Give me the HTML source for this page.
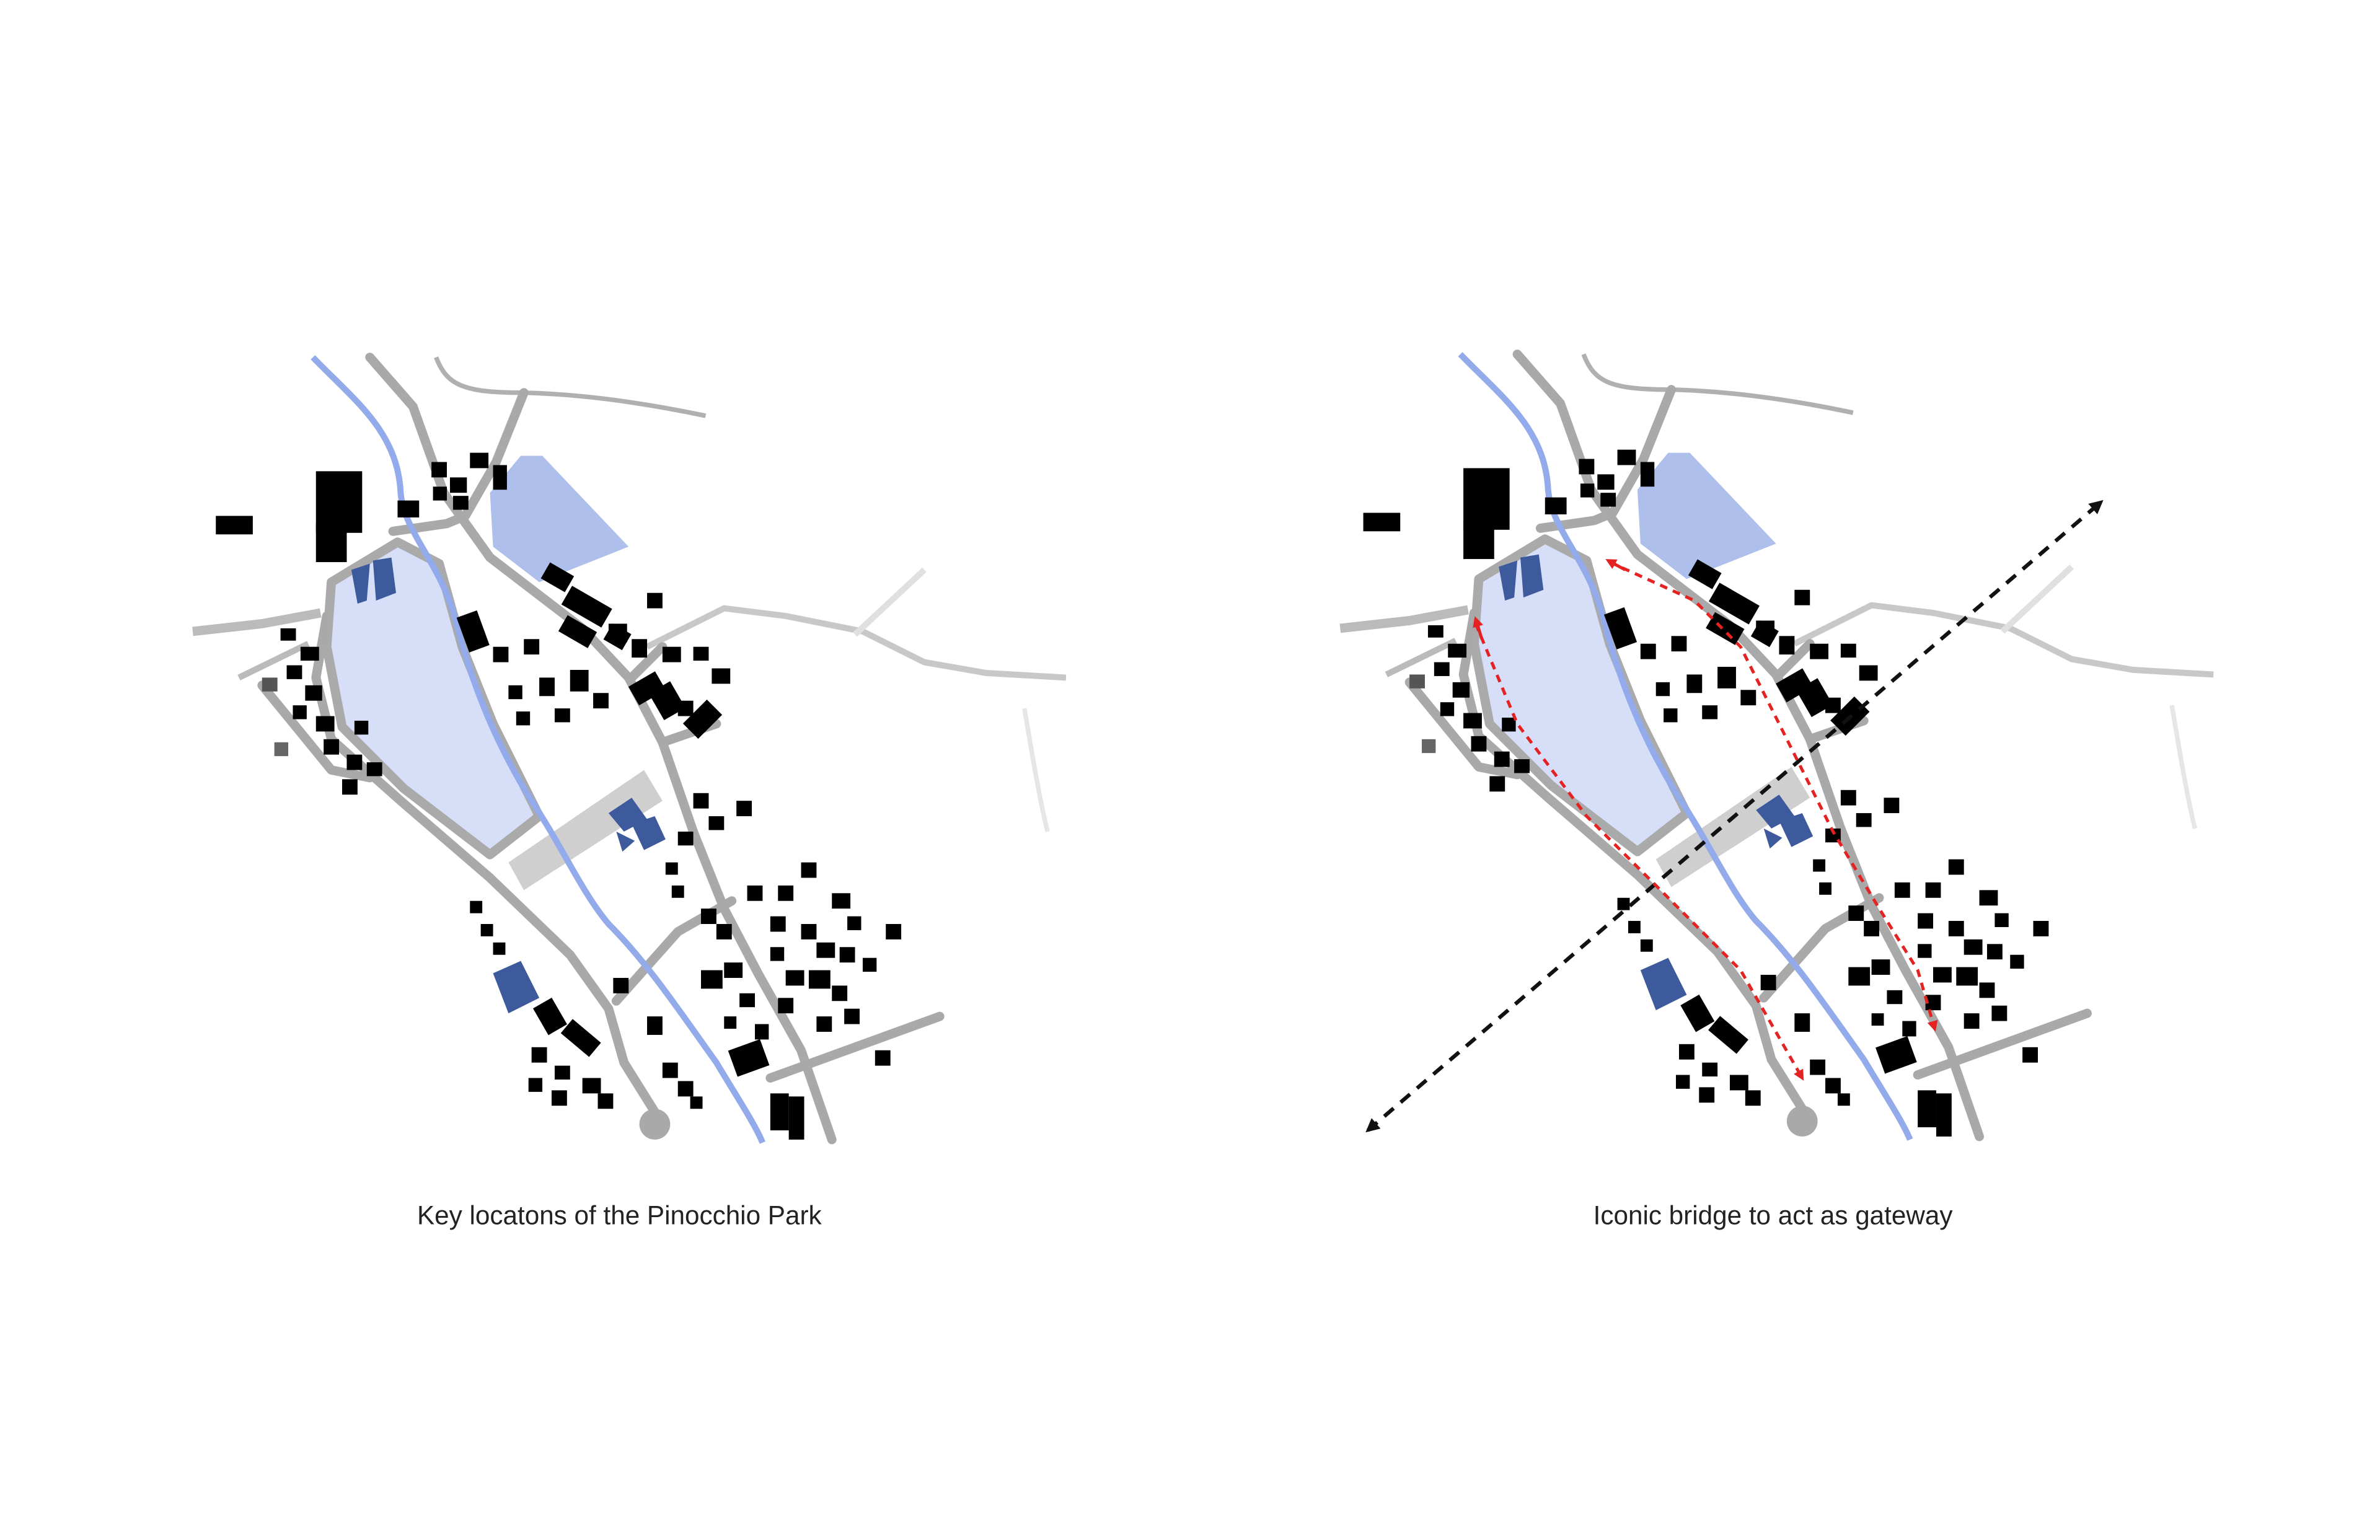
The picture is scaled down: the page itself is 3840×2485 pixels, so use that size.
<!DOCTYPE html>
<html><head><meta charset="utf-8"><style>
html,body{margin:0;padding:0;background:#fff;}
svg{display:block;}
</style></head><body>
<svg width="3840" height="2485" viewBox="0 0 1545 1000" xmlns="http://www.w3.org/2000/svg">
<defs>
<marker id="ab" markerWidth="9" markerHeight="9" refX="7" refY="4.5" orient="auto-start-reverse" markerUnits="userSpaceOnUse"><path d="M0,0 L9,4.5 L0,9 z" fill="#111"/></marker>
<marker id="ar" markerWidth="7" markerHeight="7" refX="5" refY="3.5" orient="auto" markerUnits="userSpaceOnUse"><path d="M0,0 L7,3.5 L0,7 z" fill="#e52222"/></marker>
<g id="map">
  <path d="M420,420 L470,395 L510,400 L560,410 L600,430 L640,437 L692,440" fill="none" stroke="#c8c8c8" stroke-width="4"/>
  <path d="M555,412 L600,370" fill="none" stroke="#e0e0e0" stroke-width="4"/>
  <path d="M665,460 C670,490 675,520 680,540" fill="none" stroke="#e6e6e6" stroke-width="3"/>
  <path d="M283,232 C290,250 300,255 340,255 C380,256 420,262 458,270" fill="none" stroke="#b0b0b0" stroke-width="3"/>
  <path d="M125,410 L170,405 L208,398" fill="none" stroke="#bbb" stroke-width="6"/>
  <path d="M155,440 L200,418" fill="none" stroke="#bbb" stroke-width="4"/>
  <path d="M215,378 L258,352 L285,366 L300,420 L320,470 L350,530 L318,555 L262,512 L222,472 L212,420 Z" fill="#d6def8" stroke="#aaa" stroke-width="6" stroke-linejoin="round"/>
  <path d="M338,296 L352,296 L408,355 L350,378 L320,355 L318,320 Z" fill="#aebfeb"/>
  <path d="M330,560 L418,500 L430,520 L340,578 Z" fill="#cfcfcf"/>
  <g fill="none" stroke="#a9a9a9" stroke-width="6" stroke-linejoin="round" stroke-linecap="round">
    <path d="M240,232 L268,264 L288,320 L318,362 L378,408 L408,440 L430,482 L450,540 L470,590 L492,632 L520,682 L540,740"/>
    <path d="M340,255 L322,300 L302,335 L290,340 L255,345"/>
    <path d="M212,400 L205,440 L215,480 L260,520 L318,570 L370,620 L395,655 L405,690 L425,722"/>
    <path d="M400,650 L440,605 L475,585"/>
    <path d="M500,700 L610,660"/>
    <path d="M430,482 L465,470"/>
    <path d="M410,440 L430,420"/>
    <path d="M170,445 L215,500 L240,505"/>
  </g>
  <circle cx="425" cy="730" r="10" fill="#a9a9a9"/>
  <path d="M203,232 C230,260 258,280 260,320 C262,345 285,365 295,400 C305,440 320,480 345,520 C365,550 378,580 395,600 C420,625 440,655 465,690 C480,715 490,730 495,742" fill="none" stroke="#93abea" stroke-width="4"/>
  <g fill="#3d5a9c">
    <path d="M228,370 L240,366 L238,390 L232,392 Z"/><path d="M242,364 L254,362 L257,385 L244,390 Z"/>
    <path d="M395,528 L410,518 L420,532 L405,540 Z"/><path d="M410,535 L425,530 L432,545 L418,552 Z"/><path d="M400,540 L412,546 L404,553 Z"/>
    <path d="M320,632 L338,624 L350,648 L330,658 Z"/>
  </g>
  <g fill="#000">
    <rect x="140" y="335" width="24" height="12"/>
    <rect x="205" y="306" width="30" height="40"/><rect x="205" y="340" width="20" height="25"/>
    <rect x="258" y="325" width="14" height="11"/>
    <rect x="280" y="300" width="10" height="10"/><rect x="292" y="310" width="11" height="10"/><rect x="281" y="316" width="9" height="9"/><rect x="305" y="294" width="12" height="10"/><rect x="320" y="302" width="9" height="16"/><rect x="294" y="322" width="10" height="9"/>
    <g transform="rotate(30 360 390)">
      <rect x="345" y="370" width="18" height="12"/><rect x="365" y="376" width="30" height="14"/><rect x="372" y="394" width="22" height="12"/><rect x="400" y="384" width="14" height="12"/>
    </g>
    <rect x="300" y="398" width="14" height="24" transform="rotate(-20 307 410)"/>
    <rect x="320" y="420" width="10" height="10"/><rect x="340" y="415" width="10" height="10"/><rect x="350" y="440" width="10" height="12"/><rect x="330" y="445" width="9" height="9"/><rect x="360" y="460" width="10" height="9"/><rect x="335" y="462" width="9" height="9"/>
    <rect x="370" y="435" width="12" height="14"/><rect x="385" y="450" width="10" height="10"/>
    <rect x="420" y="385" width="10" height="10"/><rect x="395" y="405" width="12" height="12"/><rect x="410" y="415" width="10" height="12"/>
    <rect x="430" y="420" width="12" height="10"/><rect x="450" y="420" width="10" height="9"/><rect x="462" y="434" width="12" height="10"/>
    <rect x="410" y="440" width="20" height="14" transform="rotate(-30 420 447)"/><rect x="425" y="445" width="16" height="20" transform="rotate(-30 433 455)"/>
    <rect x="445" y="460" width="22" height="14" transform="rotate(-45 456 467)"/>
    <rect x="440" y="455" width="10" height="10"/>
    <rect x="182" y="408" width="10" height="8"/><rect x="195" y="420" width="12" height="9"/><rect x="186" y="432" width="10" height="9"/><rect x="198" y="445" width="11" height="10"/><rect x="190" y="458" width="9" height="9"/><rect x="205" y="465" width="12" height="10"/><rect x="210" y="480" width="10" height="10"/><rect x="225" y="490" width="10" height="10"/><rect x="238" y="495" width="10" height="9"/><rect x="222" y="506" width="10" height="10"/><rect x="170" y="440" width="10" height="9" fill="#555"/><rect x="178" y="482" width="9" height="9" fill="#666"/><rect x="230" y="468" width="9" height="9"/>
    <rect x="450" y="515" width="10" height="10"/><rect x="460" y="530" width="10" height="9"/><rect x="440" y="540" width="10" height="9"/><rect x="478" y="520" width="10" height="10"/><rect x="432" y="560" width="8" height="8"/><rect x="436" y="575" width="8" height="8"/>
    <rect x="305" y="585" width="8" height="8"/><rect x="312" y="600" width="8" height="8"/><rect x="320" y="612" width="8" height="8"/>
    <rect x="350" y="650" width="14" height="20" transform="rotate(-30 357 660)"/><rect x="365" y="668" width="24" height="12" transform="rotate(40 377 674)"/>
    <rect x="345" y="680" width="10" height="10"/><rect x="360" y="692" width="10" height="9"/><rect x="343" y="700" width="9" height="9"/><rect x="358" y="708" width="10" height="10"/><rect x="378" y="700" width="12" height="10"/><rect x="388" y="710" width="10" height="10"/>
    <rect x="398" y="635" width="10" height="10"/><rect x="420" y="660" width="10" height="12"/><rect x="430" y="690" width="10" height="10"/><rect x="440" y="702" width="10" height="10"/><rect x="448" y="712" width="8" height="8"/>
    <rect x="455" y="630" width="14" height="12"/><rect x="470" y="625" width="12" height="10"/><rect x="480" y="645" width="10" height="9"/><rect x="470" y="660" width="8" height="8"/><rect x="490" y="665" width="9" height="10"/>
    <rect x="475" y="678" width="22" height="18" transform="rotate(-20 486 687)"/>
    <rect x="500" y="710" width="12" height="24"/><rect x="512" y="712" width="10" height="28"/>
    <rect x="455" y="590" width="10" height="10"/><rect x="465" y="600" width="10" height="10"/>
    <rect x="485" y="575" width="10" height="10"/><rect x="505" y="575" width="10" height="10"/><rect x="520" y="560" width="10" height="10"/><rect x="540" y="580" width="12" height="10"/><rect x="550" y="595" width="9" height="9"/><rect x="500" y="595" width="10" height="10"/><rect x="520" y="600" width="10" height="10"/><rect x="530" y="612" width="12" height="10"/><rect x="500" y="615" width="9" height="9"/><rect x="545" y="615" width="10" height="10"/><rect x="510" y="630" width="12" height="10"/><rect x="525" y="630" width="14" height="12"/><rect x="540" y="640" width="10" height="10"/><rect x="505" y="648" width="10" height="10"/><rect x="530" y="660" width="10" height="10"/><rect x="548" y="655" width="10" height="10"/><rect x="575" y="600" width="10" height="10"/><rect x="568" y="682" width="10" height="10"/><rect x="560" y="622" width="9" height="9"/>
  </g>
</g>
</defs>
<use href="#map"/>
<use href="#map" transform="translate(745,-2)"/>
<line x1="888" y1="734" x2="1364" y2="326" stroke="#111" stroke-width="2.5" stroke-dasharray="8,6" marker-end="url(#ab)" marker-start="url(#ab)"/>
<path d="M958,405 L985,470 L1030,530 L1080,580 L1130,630 L1150,665 L1170,700" fill="none" stroke="#e52222" stroke-width="2" stroke-dasharray="5,4" marker-end="url(#ar)"/>
<path d="M962,415 L958,402" fill="none" stroke="#e52222" stroke-width="2" marker-end="url(#ar)"/>
<path d="M1045,365 L1100,390 L1130,420 L1160,480 L1190,540 L1220,590 L1245,630 L1256,668" fill="none" stroke="#e52222" stroke-width="2" stroke-dasharray="5,4" marker-end="url(#ar)"/>
<path d="M1055,370 L1044,364" fill="none" stroke="#e52222" stroke-width="2" marker-end="url(#ar)"/>
<text x="402" y="795" text-anchor="middle" font-family="Liberation Sans, sans-serif" font-size="17" fill="#222">Key locatons of the Pinocchio Park</text>
<text x="1151" y="795" text-anchor="middle" font-family="Liberation Sans, sans-serif" font-size="17" fill="#222">Iconic bridge to act as gateway</text>
</svg>
</body></html>
